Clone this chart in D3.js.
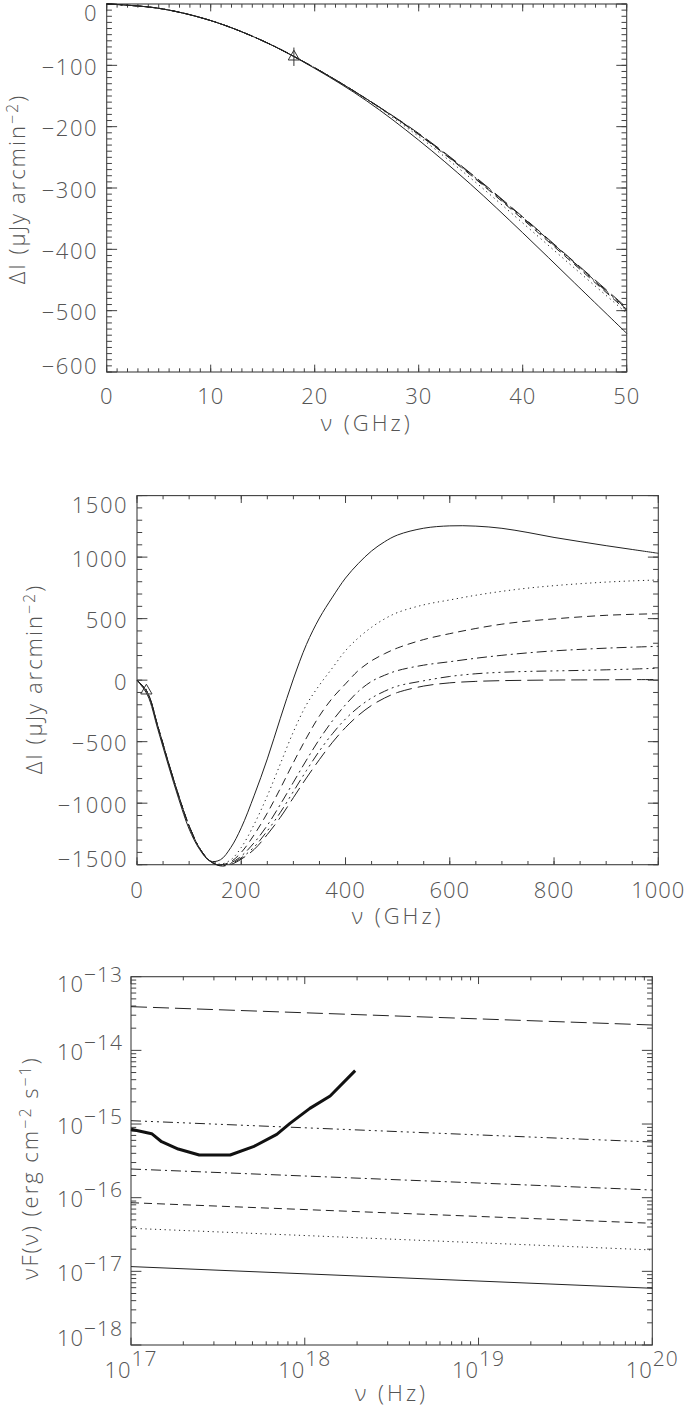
<!DOCTYPE html>
<html><head><meta charset="utf-8">
<script src="https://cdn.jsdelivr.net/npm/d3@7"></script>
<style>
body{margin:0;background:#fff}
svg text{font-family:"Open Sans","DejaVu Sans",sans-serif;font-weight:300;fill:#555}
</style></head><body>
<svg id="c" width="685" height="1411"></svg>
<script>
// ---------- Panel 1 data (nu in GHz, Delta I in microJy/arcmin^2) ----------
const p1Freq     = [0, 5, 10, 15, 20, 25, 30, 35, 40, 45, 50];
const p1Solid    = [0, -7, -27, -60, -105, -158, -222, -294, -373, -455, -537];
const p1Dotted   = [0, -7, -27, -60, -104, -156, -216, -284, -357, -431, -504];
const p1Dashed   = [0, -7, -27, -60, -104, -155, -213, -279, -351, -425, -500];
const p1DashDot  = [0, -7, -27, -60, -104, -155, -212, -277, -348, -422, -497];
const p1Dash3Dot = [0, -7, -27, -60, -104, -155, -212, -278, -349, -423, -498];
const p1LongDash = [0, -7, -27, -60, -104, -155, -211, -276, -347, -421, -495];
const p1XTicks = [0, 10, 20, 30, 40, 50];
const p1YTicks = [0, -100, -200, -300, -400, -500, -600];

// ---------- Panel 2 data ----------
const p2Freq     = [0,20,40,60,80,100,120,140,160,180,200,225,250,275,300,325,350,375,400,425,450,475,500,550,600,650,700,750,800,850,900,950,1000];
const p2Solid    = [0,-120,-400,-690,-965,-1210,-1375,-1470,-1460,-1360,-1200,-935,-640,-310,10,290,505,675,830,950,1050,1125,1180,1235,1254,1252,1234,1200,1160,1126,1093,1062,1031];
const p2Dotted   = [0,-105,-380,-670,-945,-1190,-1370,-1470,-1495,-1460,-1360,-1170,-940,-680,-420,-200,-40,100,240,345,430,498,550,612,652,690,722,748,768,784,797,807,814];
const p2Dashed   = [0,-100,-375,-665,-940,-1185,-1365,-1470,-1500,-1475,-1400,-1255,-1080,-880,-670,-470,-290,-145,-30,80,158,215,262,330,378,420,455,480,498,514,527,535,540];
const p2DashDot  = [0,-100,-375,-665,-940,-1185,-1365,-1470,-1505,-1485,-1430,-1320,-1180,-1010,-830,-650,-480,-330,-200,-90,-10,40,78,122,150,178,202,222,238,250,260,268,275];
const p2Dash3Dot = [0,-100,-375,-665,-940,-1185,-1365,-1470,-1508,-1492,-1445,-1355,-1225,-1075,-905,-735,-575,-435,-315,-220,-145,-90,-48,-5,30,52,64,71,75,79,84,90,97];
const p2LongDash = [0,-100,-375,-665,-940,-1185,-1365,-1470,-1510,-1498,-1455,-1375,-1255,-1115,-955,-795,-645,-505,-385,-285,-205,-145,-100,-48,-22,-10,-4,-1,1,2,3,4,5];
const p2XTicks = [0, 200, 400, 600, 800, 1000];
const p2YTicks = [1500, 1000, 500, 0, -500, -1000, -1500];

// measured point (triangle) shown in panels 1 and 2
const obsFreq = [18];
const obsVal  = [-86];
const obsErr  = [15];

// ---------- Panel 3 data (nu in Hz, nuF(nu) in erg cm^-2 s^-1) ----------
const p3LineFreq = [1e17, 1e20];
const p3LongDash = [3.92e-14, 2.21e-14];
const p3Dash3Dot = [1.11e-15, 5.70e-16];
const p3DashDot  = [2.45e-16, 1.27e-16];
const p3Dashed   = [8.55e-17, 4.49e-17];
const p3Dotted   = [3.84e-17, 1.95e-17];
const p3Solid    = [1.16e-17, 5.89e-18];
const p3SensFreq = [1e17, 1.315e17, 1.50e17, 1.87e17, 2.47e17, 3.72e17, 5.06e17, 6.90e17, 8.22e17, 1.07e18, 1.40e18, 1.95e18];
const p3SensFlux = [8.48e-16, 7.39e-16, 5.75e-16, 4.58e-16, 3.80e-16, 3.80e-16, 4.92e-16, 7.25e-16, 1.02e-15, 1.63e-15, 2.40e-15, 5.30e-15];
const p3XTickExp = [17, 18, 19, 20];
const p3YTickExp = [-13, -14, -15, -16, -17, -18];

// ---------- drawing ----------
const svg = d3.select("#c");
const FS = 22;
const AX = "#404040";
const LC = "#222";
const styles = {
  solid: null, dotted: "1.2,3.6", dashed: "8,5", dashdot: "10,4,2,4",
  dash3dot: "10,4,2,4,2,4,2,4", longdash: "16,6"
};
const clamp = (v, a, b) => Math.max(a, Math.min(b, v));
const smooth = d3.curveCatmullRom.alpha(0.5);

function drawBox(g, x, y) {
  const [x0, x1] = x.range(), [y0, y1] = y.range();
  g.append("rect").attr("x", x0).attr("y", y1).attr("width", x1 - x0).attr("height", y0 - y1)
    .attr("fill", "none").attr("stroke", AX).attr("stroke-width", 1.1);
}
function tick(g, x1, y1, x2, y2) {
  g.append("line").attr("x1", x1).attr("y1", y1).attr("x2", x2).attr("y2", y2)
    .attr("stroke", AX).attr("stroke-width", 1);
}
function xTicks(g, x, y, vals, len) {
  const [y0, y1] = y.range();
  vals.forEach(v => { const px = x(v); tick(g, px, y0, px, y0 - len); tick(g, px, y1, px, y1 + len); });
}
function yTicks(g, x, y, vals, len) {
  const [x0, x1] = x.range();
  vals.forEach(v => { const py = y(v); tick(g, x0, py, x0 + len, py); tick(g, x1, py, x1 - len, py); });
}
function curve(g, x, y, xs, ys, dash, width, curveType) {
  const line = d3.line().x(d => x(d[0])).y(d => y(d[1])).curve(curveType || smooth);
  g.append("path").datum(xs.map((v, i) => [v, ys[i]])).attr("d", line)
    .attr("fill", "none").attr("stroke", width > 2 ? "#111" : LC).attr("stroke-width", width || 1)
    .attr("stroke-dasharray", dash).attr("stroke-linejoin", "round");
}
function triangle(g, x, y) {
  obsFreq.forEach((f, i) => {
    const px = x(f), py = y(obsVal[i]);
    g.append("line").attr("x1", px).attr("x2", px).attr("y1", y(obsVal[i] - obsErr[i])).attr("y2", y(obsVal[i] + obsErr[i]))
      .attr("stroke", "#333").attr("stroke-width", 1);
    g.append("path").attr("d", d3.symbol(d3.symbolTriangle, 55)()).attr("transform", `translate(${px},${py})`)
      .attr("fill", "none").attr("stroke", "#333").attr("stroke-width", 1);
  });
}
function yTitle(g, cx, cy, parts) {
  const t = g.append("text").attr("transform", `translate(${cx},${cy}) rotate(-90)`)
    .attr("text-anchor", "middle").attr("font-size", FS).attr("letter-spacing", 2);
  parts.forEach(p => {
    const s = t.append("tspan").text(p.t);
    if (p.sup) s.attr("dy", -7).attr("font-size", 16);
    if (p.down) s.attr("dy", 7);
  });
}
function xTitle(g, cx, by, txt) {
  g.append("text").attr("x", cx).attr("y", by).attr("text-anchor", "middle").attr("font-size", FS)
    .attr("letter-spacing", 3).text(txt);
}
const fmt = d3.format("d");
function linLabels(g, x, y, xt, yt, xBase, yRight) {
  const [y0, y1] = y.range();
  xt.forEach(v => g.append("text").attr("x", x(v)).attr("y", xBase).attr("text-anchor", "middle")
    .attr("font-size", FS).attr("letter-spacing", 1).text(fmt(v)));
  yt.forEach(v => g.append("text").attr("x", yRight).attr("y", clamp(y(v) + 1.5, y1 + 9, y0 - 6) + 8)
    .attr("text-anchor", "end").attr("font-size", FS).attr("letter-spacing", 1.5).text(fmt(v)));
}

// ===== Panel 1 =====
{
  const g = svg.append("g");
  const x = d3.scaleLinear().domain([0, 50]).range([106.7, 626.7]);
  const y = d3.scaleLinear().domain([-600, 0]).range([372, 4]);
  const W = 520, H = 368;
  xTicks(g, x, y, d3.range(0, 50.01, 1), 0.01 * H);
  xTicks(g, x, y, p1XTicks, 0.02 * H);
  yTicks(g, x, y, d3.range(-600, 0.01, 10), 0.01 * W);
  yTicks(g, x, y, p1YTicks, 0.02 * W);
  drawBox(g, x, y);
  linLabels(g, x, y, p1XTicks, p1YTicks, 404, 98);
  curve(g, x, y, p1Freq, p1Solid, styles.solid);
  curve(g, x, y, p1Freq, p1Dotted, styles.dotted);
  curve(g, x, y, p1Freq, p1Dashed, styles.dashed);
  curve(g, x, y, p1Freq, p1DashDot, styles.dashdot);
  curve(g, x, y, p1Freq, p1Dash3Dot, styles.dash3dot);
  curve(g, x, y, p1Freq, p1LongDash, styles.longdash);
  triangle(g, x, y);
  xTitle(g, 366.7, 431, "ν (GHz)");
  yTitle(g, 25, 189, [{t: "ΔI (μJy arcmin"}, {t: "−2", sup: true}, {t: ")", down: true}]);
}

// ===== Panel 2 =====
{
  const g = svg.append("g");
  const x = d3.scaleLinear().domain([0, 1000]).range([137, 658.3]);
  const y = d3.scaleLinear().domain([-1500, 1500]).range([864.7, 495.6]);
  const W = 521, H = 369;
  xTicks(g, x, y, d3.range(0, 1000.1, 50), 0.01 * H);
  xTicks(g, x, y, p2XTicks, 0.02 * H);
  yTicks(g, x, y, d3.range(-1500, 1500.1, 100), 0.01 * W);
  yTicks(g, x, y, p2YTicks, 0.02 * W);
  drawBox(g, x, y);
  linLabels(g, x, y, p2XTicks, p2YTicks, 898, 128);
  curve(g, x, y, p2Freq, p2Solid, styles.solid);
  curve(g, x, y, p2Freq, p2Dotted, styles.dotted);
  curve(g, x, y, p2Freq, p2Dashed, styles.dashed);
  curve(g, x, y, p2Freq, p2DashDot, styles.dashdot);
  curve(g, x, y, p2Freq, p2Dash3Dot, styles.dash3dot);
  curve(g, x, y, p2Freq, p2LongDash, styles.longdash);
  triangle(g, x, y);
  xTitle(g, 397.6, 924, "ν (GHz)");
  yTitle(g, 42, 679, [{t: "ΔI (μJy arcmin"}, {t: "−2", sup: true}, {t: ")", down: true}]);
}

// ===== Panel 3 =====
{
  const g = svg.append("g");
  const x = d3.scaleLog().domain([1e17, 1e20]).range([131, 652.3]);
  const y = d3.scaleLog().domain([1e-18, 1e-13]).range([1345, 976.7]);
  const W = 521, H = 368;
  const [yb, yt] = y.range();
  const xMinor = [], yMinor = [];
  for (let n = 17; n < 20; n++) for (let k = 2; k <= 9; k++) xMinor.push(k * Math.pow(10, n));
  for (let n = -18; n < -13; n++) for (let k = 2; k <= 9; k++) yMinor.push(k * Math.pow(10, n));
  xTicks(g, x, y, xMinor, 0.01 * H);
  xTicks(g, x, y, p3XTickExp.map(e => Math.pow(10, e)), 0.02 * H);
  yTicks(g, x, y, yMinor, 0.01 * W);
  yTicks(g, x, y, p3YTickExp.map(e => Math.pow(10, e)), 0.02 * W);
  drawBox(g, x, y);
  p3XTickExp.forEach(e => {
    const t = g.append("text").attr("x", x(Math.pow(10, e))).attr("y", 1378).attr("text-anchor", "middle")
      .attr("font-size", FS).attr("letter-spacing", 1);
    t.append("tspan").text("10");
    t.append("tspan").attr("dy", -12).attr("font-size", 21).text(e);
  });
  p3YTickExp.forEach(e => {
    const c = clamp(y(Math.pow(10, e)) + 2, yt + 8, yb - 7);
    const t = g.append("text").attr("x", 123).attr("y", c + 7.5).attr("text-anchor", "end")
      .attr("font-size", FS).attr("letter-spacing", 1);
    t.append("tspan").text("10");
    t.append("tspan").attr("dy", -10).attr("font-size", 21).text(fmt(e));
  });
  curve(g, x, y, p3LineFreq, p3LongDash, styles.longdash, 1, d3.curveLinear);
  curve(g, x, y, p3LineFreq, p3Dash3Dot, styles.dash3dot, 1, d3.curveLinear);
  curve(g, x, y, p3LineFreq, p3DashDot, styles.dashdot, 1, d3.curveLinear);
  curve(g, x, y, p3LineFreq, p3Dashed, styles.dashed, 1, d3.curveLinear);
  curve(g, x, y, p3LineFreq, p3Dotted, styles.dotted, 1, d3.curveLinear);
  curve(g, x, y, p3LineFreq, p3Solid, styles.solid, 1, d3.curveLinear);
  curve(g, x, y, p3SensFreq, p3SensFlux, null, 3, d3.curveLinear);
  xTitle(g, 391.6, 1401, "ν (Hz)");
  yTitle(g, 38, 1168, [{t: "νF(ν) (erg cm"}, {t: "−2", sup: true}, {t: " s", down: true}, {t: "−1", sup: true}, {t: ")", down: true}]);
}
</script>
</body></html>
